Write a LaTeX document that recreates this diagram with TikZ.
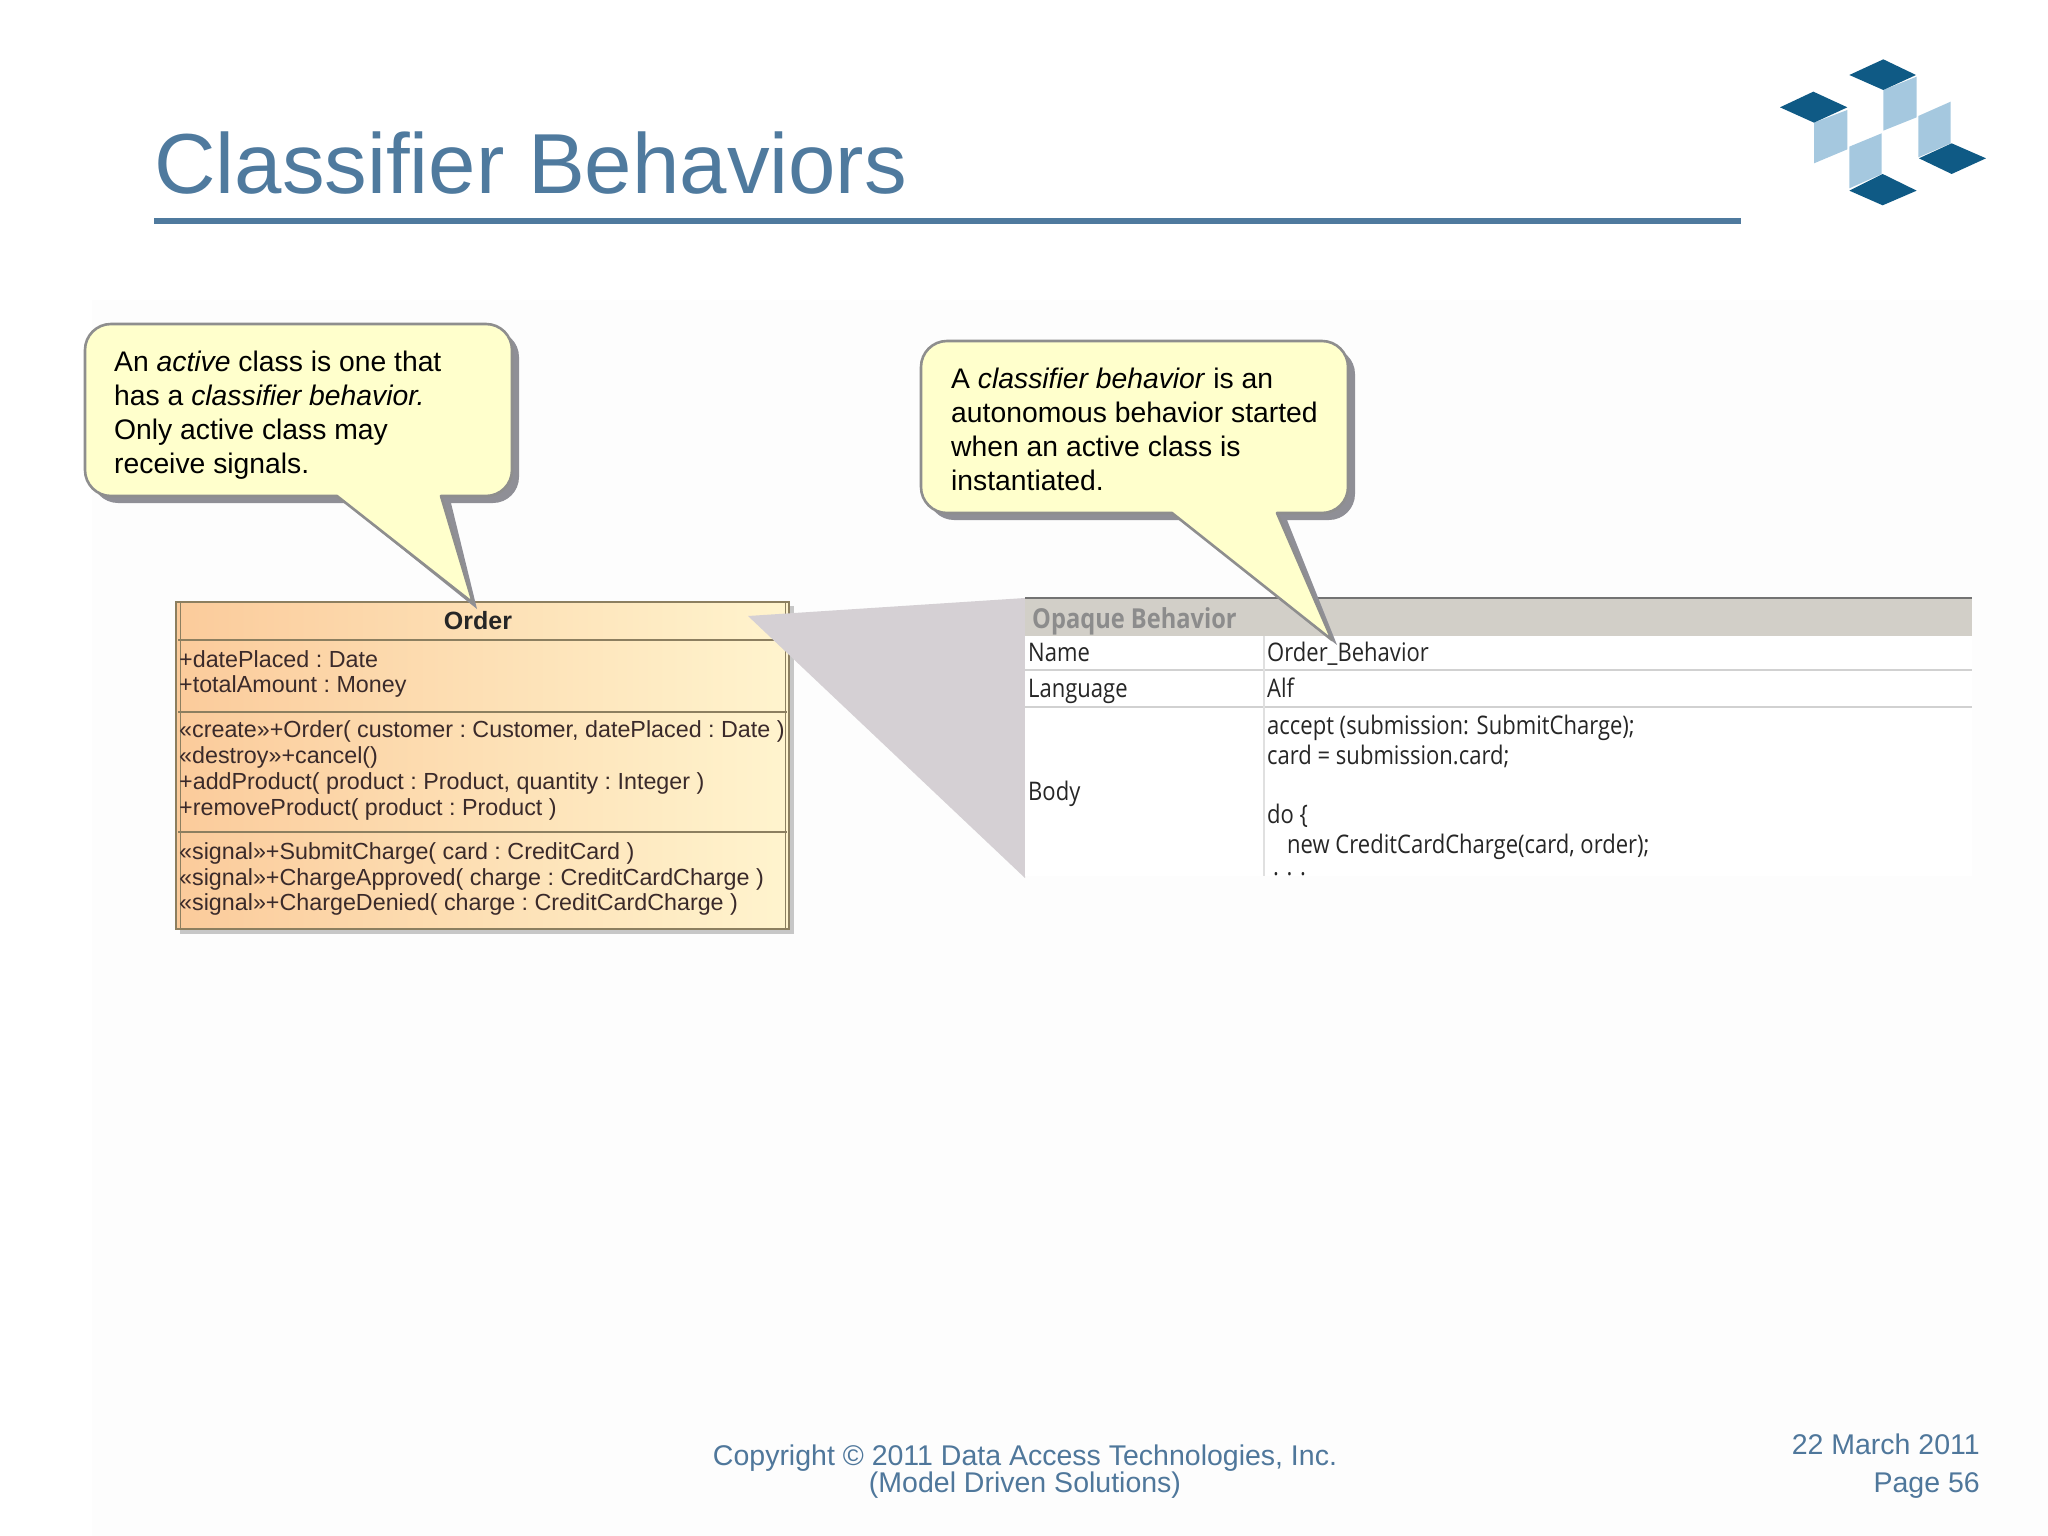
\documentclass[tikz,border=0pt]{standalone}
\usepackage{fontspec}
\setmainfont{Liberation Sans}
\newfontfamily\umlfont{Liberation Sans}
\newfontfamily\tabfont[FakeStretch=0.86]{Open Sans}
\definecolor{slideblue}{HTML}{4F7A9E}
\definecolor{footblue}{HTML}{4F779B}
\definecolor{calloutfill}{HTML}{FFFFCC}
\definecolor{calloutline}{HTML}{8E8E8E}
\definecolor{calloutshadow}{HTML}{8F8F96}
\definecolor{wedge}{HTML}{D5D0D4}
\definecolor{headgrey}{HTML}{D2CFC8}
\definecolor{umlline}{HTML}{8C7F60}
\definecolor{umltext}{HTML}{3A2A2A}
\definecolor{umlleft}{HTML}{FBCB9B}
\definecolor{umlright}{HTML}{FFF4CE}
\definecolor{logodark}{HTML}{0F5A85}
\definecolor{logolight}{HTML}{A5C8DF}
\definecolor{pagetint}{HTML}{FDFDFD}
\tikzset{
  title text/.style={anchor=west,inner sep=0,text=slideblue,font=\fontsize{85.2}{88}\selectfont},
  call text/.style={anchor=base west,inner sep=0,text=black,font=\fontsize{28.3}{34}\selectfont},
  uml text/.style={anchor=base west,inner sep=0,text=umltext,font=\umlfont\fontsize{23.3}{26}\selectfont\frenchspacing},
  tab text/.style={anchor=base west,inner sep=0,text=black!85,font=\tabfont\fontsize{25.6}{26}\selectfont},
  foot text/.style={inner sep=0,text=footblue,font=\fontsize{28.5}{29}\selectfont},
  call shape/.style={fill=calloutfill,draw=calloutline,line width=2.6pt,line join=round},
  call shade/.style={fill=calloutshadow},
}
\begin{document}
\begin{tikzpicture}[x=1pt,y=-1pt]
\useasboundingbox (0,0) rectangle (2048,1536);
\fill[white] (0,0) rectangle (2048,1536);
\fill[pagetint] (92,300) rectangle (2048,1536);
% title
\node[title text] (title) at (154,163) {Classifier Behaviors};
\coordinate (ruleL) at (154,221);
\coordinate (ruleR) at (1741,221);
\draw[slideblue,line width=6pt] (ruleL) -- (ruleR);
% logo
\begin{scope}[shift={(1740,30)},x=0.3333pt,y=-0.3333pt]
\fill[logolight] (222,278)--(322,240)--(322,358)--(222,400)--cycle;
\fill[logolight] (430,180)--(530,140)--(530,262)--(430,302)--cycle;
\fill[logolight] (328,350)--(425,310)--(425,432)--(328,475)--cycle;
\fill[logolight] (535,258)--(632,215)--(632,340)--(535,382)--cycle;
\fill[logodark] (430,88)--(528,135)--(430,180)--(328,135)--cycle;
\fill[logodark] (220,185)--(322,232)--(222,278)--(120,232)--cycle;
\fill[logodark] (428,432)--(530,482)--(428,526)--(328,482)--cycle;
\fill[logodark] (635,340)--(738,385)--(635,432)--(537,385)--cycle;
\end{scope}
% class box
\coordinate (cTL) at (176,602); \coordinate (cBR) at (789,929);
\fill[black!22] (789,606) rectangle (794,934);
\fill[black!22] (180,929) rectangle (794,934);
\shade[left color=umlleft,right color=umlright] (cTL) rectangle (cBR);
\draw[umlline,line width=2pt] (cTL) rectangle (cBR);
\draw[umlline,line width=1pt] (180,602) -- (180,929);
\draw[umlline,line width=1pt] (785,602) -- (785,929);
\draw[umlline,line width=2pt] (178,640) -- (787,640);
\draw[umlline,line width=2pt] (178,712) -- (787,712);
\draw[umlline,line width=2pt] (178,832) -- (787,832);
\node[anchor=center,inner sep=0,text=black!85,font=\umlfont\bfseries\fontsize{25}{26}\selectfont] (ordername) at (478,621) {Order};
\node[uml text] (a1) at (179,667) {+datePlaced : Date};
\node[uml text] (a2) at (179,692) {+totalAmount : Money};
\node[uml text] (o1) at (179,737) {«create»+Order( customer : Customer, datePlaced : Date )};
\node[uml text] (o2) at (179,763) {«destroy»+cancel()};
\node[uml text] (o3) at (179,789) {+addProduct( product : Product, quantity : Integer )};
\node[uml text] (o4) at (179,815) {+removeProduct( product : Product )};
\node[uml text] (s1) at (179,859) {«signal»+SubmitCharge( card : CreditCard )};
\node[uml text] (s2) at (179,885) {«signal»+ChargeApproved( charge : CreditCardCharge )};
\node[uml text] (s3) at (179,910) {«signal»+ChargeDenied( charge : CreditCardCharge )};
% wedge
\fill[wedge] (748,616) -- (1025,598) -- (1025,878) -- cycle;
% table
\fill[white] (1025,636) rectangle (1972,876);
\fill[headgrey] (1025,598) rectangle (1972,636);
\draw[black!55,line width=1.5pt] (1025,598) -- (1972,598);
\draw[black!18,line width=2pt] (1025,670) -- (1972,670);
\draw[black!18,line width=2pt] (1025,707) -- (1972,707);
\draw[black!12,line width=1.5pt] (1264,636) -- (1264,876);
\node[tab text,text=black!45,font=\tabfont\bfseries\fontsize{27.5}{26}\selectfont] (t0) at (1032,628) {Opaque Behavior};
\node[tab text] (t1) at (1028,661) {Name};
\node[tab text] (t2) at (1028,697) {Language};
\node[tab text] (t3) at (1028,800) {Body};
\node[tab text] (v1) at (1267,661) {Order\_Behavior};
\node[tab text] (v2) at (1267,697) {Alf};
\node[tab text] (v3) at (1267,734) {accept (submission: SubmitCharge);};
\node[tab text] (v4) at (1267,764) {card = submission.card;};
\node[tab text] (v5) at (1267,823) {do \{};
\node[tab text] (v6) at (1287,853) {new CreditCardCharge(card, order);};
\node[tab text] (v7) at (1273,875) {. . .};
% callout 1
\fill[call shade] [rounded corners=26pt] (92,417) -- (92,331) -- (519,331) -- (519,503) [sharp corners] -- (451,503) -- (477,609) -- (345,503) [rounded corners=26pt] -- (92,503) -- cycle;
\draw[call shape] [rounded corners=26pt] (85,410) -- (85,324) -- (512,324) -- (512,496) [sharp corners] -- (441,496) -- (473,603) -- (337,496) [rounded corners=26pt] -- (85,496) -- cycle;
\node[call text] (c1a) at (114,371) {An \textit{active} class is one that};
\node[call text] (c1b) at (114,405) {has a \textit{classifier behavior.}};
\node[call text] (c1c) at (114,439) {Only active class may};
\node[call text] (c1d) at (114,473) {receive signals.};
% callout 2
\fill[call shade] [rounded corners=26pt] (928,434) -- (928,348) -- (1355,348) -- (1355,520) [sharp corners] -- (1287,520) -- (1337,645) -- (1180,520) [rounded corners=26pt] -- (928,520) -- cycle;
\draw[call shape] [rounded corners=26pt] (921,427) -- (921,341) -- (1348,341) -- (1348,513) [sharp corners] -- (1277,513) -- (1332,640) -- (1172,513) [rounded corners=26pt] -- (921,513) -- cycle;
\node[call text] (c2a) at (951,388) {A \textit{classifier behavior} is an};
\node[call text] (c2b) at (951,422) {autonomous behavior started};
\node[call text] (c2c) at (951,456) {when an active class is};
\node[call text] (c2d) at (951,490) {instantiated.};
% footer
\node[foot text] (f1) at (1025,1458) {Copyright © 2011 Data Access Technologies, Inc.};
\node[foot text] (f2) at (1025,1485) {(Model Driven Solutions)};
\node[foot text,anchor=east] (f3) at (1980,1444) {22 March 2011};
\node[foot text,anchor=east] (f4) at (1980,1485) {Page 56};
\end{tikzpicture}
\end{document}
